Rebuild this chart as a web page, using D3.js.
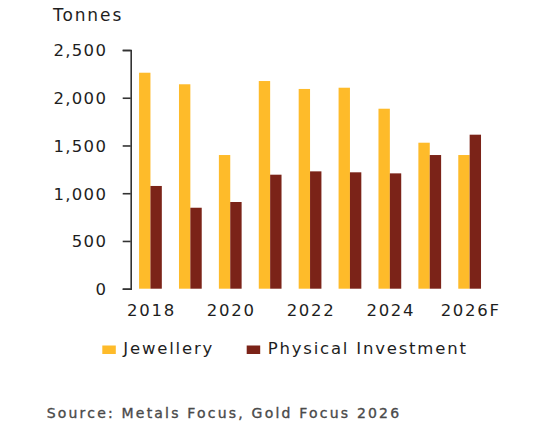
<!DOCTYPE html>
<html>

<head>
    <title>Gold demand</title>
    <script src="https://d3js.org/d3.v7.min.js"></script>
    <style>
        body { margin: 0; background: #fff; }
        text { font-family: "DejaVu Sans", sans-serif; }
    </style>
</head>

<body>

    <svg width="540" height="425" id="mainSvg"></svg>
    <script>
        // data (tonnes)
        const years = ["2018", "2019", "2020", "2021", "2022", "2023", "2024", "2025", "2026F"];
        const jewellery = [2262, 2141, 1400, 2175, 2092, 2105, 1885, 1529, 1400];
        const physicalInvestment = [1076, 848, 908, 1194, 1229, 1219, 1208, 1400, 1613];
        const seriesNames = ["Jewellery", "Physical Investment"];
        const yTicks = [0, 500, 1000, 1500, 2000, 2500];

        const colors = ["#FEBB2A", "#7B2318"];
        const textColor = "#1e1e1e";

        const svg = d3.select("#mainSvg");

        const rows = years.map((y, i) => ({ year: y, values: [jewellery[i], physicalInvestment[i]] }));

        const y = d3.scaleLinear().domain([0, 2500]).range([288.7, 50]);

        const x = d3.scaleBand()
            .domain(years)
            .range([130.7, 489.4])
            .paddingInner(0.43)
            .paddingOuter(0.21);

        const xInner = d3.scaleBand()
            .domain(d3.range(seriesNames.length))
            .range([0, x.bandwidth()]);

        // unit label
        svg.append("text")
            .attr("x", 53)
            .attr("y", 20.7)
            .attr("font-size", 17)
            .attr("letter-spacing", 1.9)
            .attr("fill", textColor)
            .text("Tonnes");

        // bars
        const groups = svg.selectAll(".yearGroup").data(rows).join("g")
            .attr("class", "yearGroup")
            .attr("transform", d => `translate(${x(d.year)},0)`);

        groups.selectAll("rect")
            .data(d => d.values)
            .join("rect")
            .attr("x", (d, i) => xInner(i))
            .attr("width", xInner.bandwidth())
            .attr("y", d => y(d))
            .attr("height", d => y(0) - y(d))
            .attr("fill", (d, i) => colors[i]);

        // y axis
        const yAxis = svg.append("g")
            .attr("transform", "translate(130.7,0)")
            .call(d3.axisLeft(y).tickValues(yTicks).tickFormat(d3.format(",")).tickSize(8).tickSizeOuter(8).tickPadding(15.5));

        yAxis.select(".domain").attr("stroke", "#333").attr("stroke-width", 1.6);
        yAxis.selectAll(".tick line").attr("stroke", "#333").attr("stroke-width", 1.6);
        yAxis.selectAll(".tick text")
            .attr("font-family", "DejaVu Sans")
            .attr("font-size", 16.5)
            .attr("letter-spacing", 1.3)
            .attr("fill", textColor)
            .attr("dy", "0.36em");

        // x labels, every second year
        svg.selectAll(".xLabel").data(years.filter((d, i) => i % 2 === 0)).join("text")
            .attr("class", "xLabel")
            .attr("x", d => x(d) + x.bandwidth() / 2 + 1)
            .attr("y", 316)
            .attr("text-anchor", "middle")
            .attr("font-size", 16.5)
            .attr("letter-spacing", 1.7)
            .attr("fill", textColor)
            .text(d => d);

        // legend
        const legendX = [102.3, 246.7];
        const legend = svg.selectAll(".legendItem").data(seriesNames).join("g")
            .attr("class", "legendItem")
            .attr("transform", (d, i) => `translate(${legendX[i]},0)`);

        legend.append("rect")
            .attr("y", 345.5)
            .attr("width", 13.5)
            .attr("height", 8.5)
            .attr("fill", (d, i) => colors[i]);

        legend.append("text")
            .attr("x", 21)
            .attr("y", 354)
            .attr("font-size", 16.5)
            .attr("letter-spacing", 1.8)
            .attr("fill", textColor)
            .text(d => d);

        // source
        svg.append("text")
            .attr("x", 46.7)
            .attr("y", 418.3)
            .attr("font-size", 14)
            .attr("letter-spacing", 2.2)
            .attr("fill", "#4a4a4a")
            .attr("stroke", "#4a4a4a")
            .attr("stroke-width", 0.35)
            .text("Source: Metals Focus, Gold Focus 2026");
    </script>
</body>

</html>
